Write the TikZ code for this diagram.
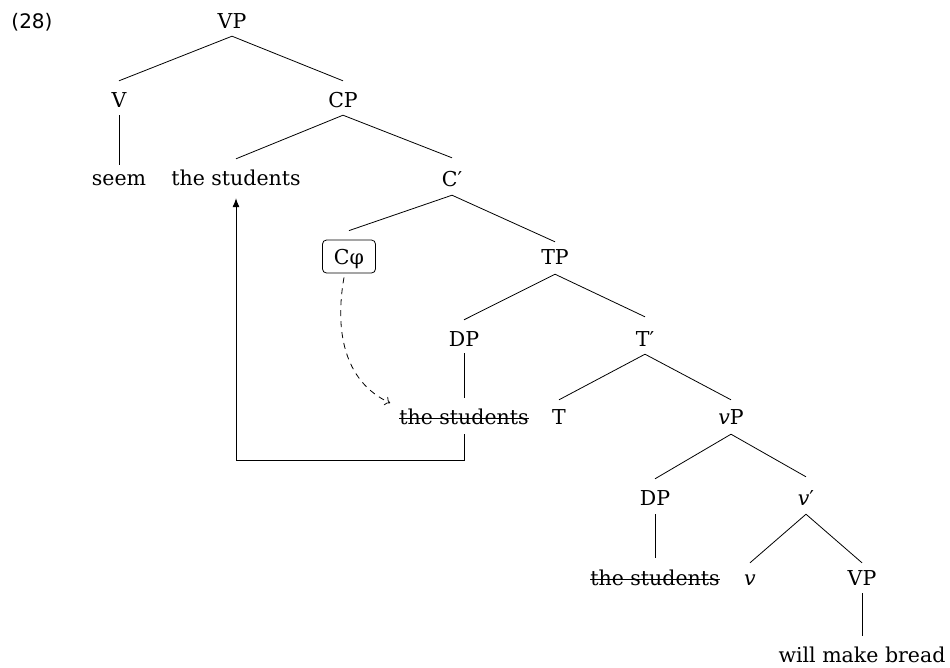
\documentclass[tikz,border=0pt]{standalone}
\usepackage{fontspec}
\setmainfont{DejaVu Serif}
\newfontfamily\numfont{DejaVu Sans}
\usetikzlibrary{arrows.meta}
\begin{document}
\begin{tikzpicture}[x=1pt,y=-1pt,
  lab/.style={inner sep=0pt, anchor=base, text height=26pt, text depth=8pt, font=\fontsize{20.5}{24}\selectfont},
  boxlab/.style={draw, line width=0.8pt, rounded corners=4pt, anchor=base, inner xsep=0pt, minimum width=53pt, text height=17pt, text depth=2pt, inner ysep=7pt, font=\fontsize{20.5}{24}\selectfont},
  br/.style={line width=0.8pt},
  mover/.style={line width=0.8pt, -{Latex[length=9pt,width=7pt]}},
  agree/.style={line width=0.8pt, dash pattern=on 6pt off 5pt, -{To[length=5pt,width=9pt]}}]
\useasboundingbox (0,0) rectangle (950,667);
\node[anchor=base, inner sep=0pt, font=\numfont\fontsize{20}{24}\selectfont] (ex) at (32,28) {(28)};
\node[lab] (vp) at (232,28) {VP};
\node[lab] (v) at (119,107) {V};
\node[lab] (cp) at (343,107) {CP};
\node[lab, text height=20pt] (seem) at (119,185) {seem};
\node[lab, text depth=13pt] (ts1) at (236,185) {the students};
\node[lab, text height=28pt, text depth=9pt] (cbar) at (452,186) {C′};
\node[boxlab] (cphi) at (349,264) {Cφ};
\node[lab, text height=22pt, text depth=10pt] (tp) at (555,264) {TP};
\node[lab, text depth=7pt] (dp) at (464,346) {DP};
\node[lab, text height=29pt] (tbar) at (645,346) {T′};
\node[lab, text depth=10pt] (ts2) at (464,424) {the students};
\node[lab, text height=24pt] (t) at (559,424) {T};
\node[lab, text height=24pt, text depth=10pt] (vpp) at (731,424) {\textit{v}P};
\node[lab, text depth=9pt] (dp2) at (655,505) {DP};
\node[lab, text height=28pt, text depth=9pt] (vbar) at (806,505) {\textit{v}′};
\node[lab, text height=27pt] (ts3) at (655,585) {the students};
\node[lab, text height=22pt] (vv) at (750,585) {\textit{v}};
\node[lab, text height=22pt] (vp2) at (862,585) {VP};
\node[lab, text height=26pt, text depth=2pt] (will) at (862,662) {will make bread};
% branches
\draw[br] (vp.south) -- (v.north);
\draw[br] (vp.south) -- (cp.north);
\draw[br] (v.south) -- (seem.north);
\draw[br] (cp.south) -- (ts1.north);
\draw[br] (cp.south) -- (cbar.north);
\draw[br] (cbar.south) -- ([yshift=9pt]cphi.north);
\draw[br] (cbar.south) -- (tp.north);
\draw[br] (tp.south) -- (dp.north);
\draw[br] (tp.south) -- (tbar.north);
\draw[br] (dp.south) -- (ts2.north);
\draw[br] (tbar.south) -- (t.north);
\draw[br] (tbar.south) -- (vpp.north);
\draw[br] (vpp.south) -- (dp2.north);
\draw[br] (vpp.south) -- (vbar.north);
\draw[br] (dp2.south) -- (ts3.north);
\draw[br] (vbar.south) -- (vv.north);
\draw[br] (vbar.south) -- (vp2.north);
\draw[br] (vp2.south) -- (will.north);
% strike-throughs
\draw[br] ([yshift=6pt]ts2.base west) -- ([yshift=6pt]ts2.base east);
\draw[br] ([yshift=6pt]ts3.base west) -- ([yshift=6pt]ts3.base east);
% movement
\draw[mover] (ts2.south) -- ++(0,26) -| (ts1.south);
% agreement
\draw[agree] ([yshift=-4pt,xshift=-5pt]cphi.south) to[out=-100,in=155] ([xshift=-9pt,yshift=21pt]ts2.base west);
\end{tikzpicture}
\end{document}
